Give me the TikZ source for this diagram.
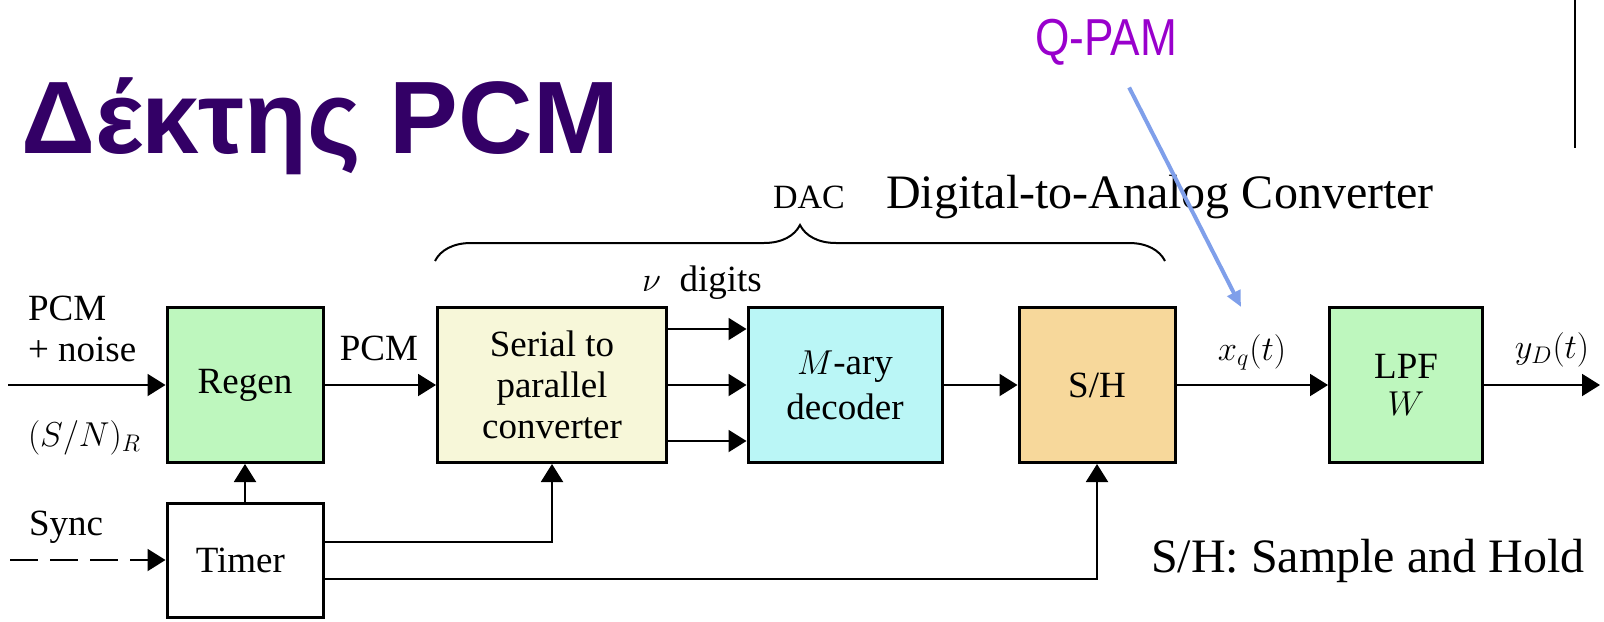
\documentclass[tikz,border=0pt]{standalone}
\usepackage{fontspec}
\setmainfont{Liberation Serif}
\newfontfamily\titlefont{Liberation Sans}
\newfontfamily\qpamfont[FakeStretch=0.85]{Liberation Sans}
\usetikzlibrary{arrows.meta}
\usetikzlibrary{positioning}
\usetikzlibrary{decorations.pathreplacing}

\definecolor{regengreen}{HTML}{BEF7BE}
\definecolor{serialyellow}{HTML}{F7F7D9}
\definecolor{marycyan}{HTML}{BAF6F6}
\definecolor{shorange}{HTML}{F7D89B}
\definecolor{titlepurple}{HTML}{330066}
\definecolor{qpurple}{HTML}{9900CC}
\definecolor{qblue}{HTML}{7F9FEA}

\newcommand\blockfont{\fontsize{18.5}{20.5}\selectfont}
\newcommand\notefont{\fontsize{24}{28}\selectfont}

\tikzset{
    block/.style={
           rectangle,
           draw=black, line width=1.5pt,
           minimum width=78pt,
           minimum height=77.5pt,
           inner sep=2pt,
           align=center,
           font=\blockfont,
           },
    lbl/.style={
           inner sep=0pt,
           font=\blockfont,
           },
    note/.style={
           inner sep=0pt,
           font=\notefont,
           },
}

\begin{document}
\begin{tikzpicture}
[
x=0.5pt, y=-0.5pt,
line width=1pt,
->,>={Triangle[length=9pt,width=11pt]}
]
 \useasboundingbox (0,0) rectangle (1604,621);

 % Title
 \node[anchor=base west, inner sep=0pt, text=titlepurple,
 font=\titlefont\bfseries\fontsize{51.5}{60}\selectfont] (TITLE) at (20,153)
 {Δέκτης PCM};

 % Regenerator and timer
 \node[block, fill=regengreen] (REGEN) at (245,385) {Regen};

 \node[block,
 minimum height=57pt,
 below of=REGEN,
 node distance=87.5pt] (TIMER)
 {%
Timer
 };

 % DAC chain
 \node[block, fill=serialyellow,
 minimum width=114.5pt] (SERIAL) at (552,385)
 {%
Serial to\\parallel\\converter
 };

 \node[block, fill=marycyan,
 minimum width=97pt,
 font=\fontsize{18.5}{22.5}\selectfont] (MARY) at (845,385)
 {%
$M$-ary\\decoder
 };

 \node[block, fill=shorange] (SH) at (1097,385) {S/H};

 \node[block, fill=regengreen,
 minimum width=76.5pt,
 font=\fontsize{18.5}{18.5}\selectfont] (LPF) at (1406,385)
 {%
LPF\\$W$
 };

 % free ends
 \coordinate (IN) at (8,385);
 \coordinate (SYNC) at (10,560);
 \coordinate (OUT) at (1600,385);
 \coordinate (BRL) at (435,261);
 \coordinate (BRR) at (1165,261);
 \coordinate (QTIP) at (1241,307);

 % labels
 \node[lbl, anchor=west, align=left] (PCMNOISE) at (27,329) {PCM\\+ noise};
 \node[lbl, anchor=west] (SNR) at (27,438) {$(S/N)_R$};
 \node[lbl, anchor=west] (SYNCLBL) at (28,527) {Sync};
 \node[lbl] (PCMOUT) at (379,348) {PCM};
 \node[lbl] (DIGITS) at (702,283) {$\nu$\ \ digits};
 \node[lbl] (XQ) at (1252,352) {$x_q(t)$};
 \node[lbl] (YD) at (1552,350) {$y_D(t)$};
 \node[inner sep=0pt, font=\fontsize{17}{20}\selectfont] (DAC) at (809,197) {DAC};
 \node[note, anchor=base west] (DACNOTE) at (885,208) {Digital-to-Analog Converter};
 \node[note, anchor=base west] (SHNOTE) at (1150,572) {S/H: Sample and Hold};
 \node[inner sep=0pt, text=qpurple,
 font=\qpamfont\fontsize{26}{30}\selectfont] (QPAM) at (1106,42) {Q-PAM};

 % draw the paths
 \path
 (IN) edge (REGEN)
 (REGEN) edge (SERIAL)
 (TIMER) edge (REGEN)
 ([yshift=28pt]SERIAL.east) edge ([yshift=28pt]MARY.west)
 (SERIAL) edge (MARY)
 ([yshift=-28pt]SERIAL.east) edge ([yshift=-28pt]MARY.west)
 (MARY) edge (SH)
 (SH) edge (LPF)
 (LPF) edge (OUT)
 ;

 \draw[dash pattern=on 14pt off 6pt] (SYNC) -- (TIMER);
 \draw ([yshift=9pt]TIMER.east) -| (SERIAL.south);
 \draw ([yshift=-9.5pt]TIMER.east) -| (SH.south);

 % DAC brace
 \draw[-, decorate, decoration={brace, amplitude=18pt}] (BRL) -- (BRR);

 % Q-PAM pointer
 \draw[qblue, line width=2pt, shorten <=12pt,
 -{Triangle[length=8pt,width=7pt]}] (QPAM) -- (QTIP);

 \draw[-] (1575,0) -- (1575,148);

\end{tikzpicture}
\end{document}
